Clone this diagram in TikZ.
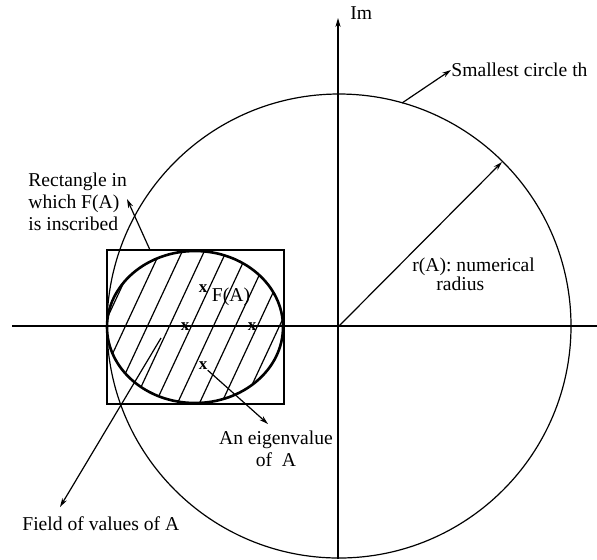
\documentclass[tikz,border=0pt]{standalone}
\usepackage{fontspec}
\setmainfont{Liberation Serif}
\usetikzlibrary{arrows.meta}
\begin{document}
\begin{tikzpicture}[x=0.5pt,y=-0.5pt,
  thinln/.style={line width=0.6pt,black},
  thickln/.style={line width=1.3pt,black},
  arr/.style={thinln,-{Stealth[length=4.5pt,width=2.6pt]}},
  lbl/.style={font=\fontsize{9.8}{11}\selectfont,inner sep=0pt},
  xm/.style={font=\fontsize{8.5}{9}\selectfont\bfseries,inner sep=0pt}]
\useasboundingbox (0,0) rectangle (597,559);
% axes
\coordinate (xl) at (12,326);
\coordinate (xr) at (597,326);
\coordinate (yb) at (338,559);
\coordinate (yt) at (338,18);
\draw[thinln] (xl) -- (xr);
\draw[arr] (yb) -- (yt);
\node[lbl,anchor=west] (im) at (350,13) {Im};
% big circle
\coordinate (o) at (339,326);
\draw[thinln] (o) circle [radius=232];
% rectangle
\draw[thinln] (107,250) rectangle (284,404);
% field of values: hatched ellipse
\begin{scope}
  \clip (195,327) ellipse [x radius=88, y radius=76];
  \foreach \k in {-7,...,7}
    \draw[thinln] ({191+22*\k-90},520) -- ({191+22*\k+90},134);
\end{scope}
\draw[thickln] (195,327) ellipse [x radius=88, y radius=76];
% eigenvalues
\node[xm] (e1) at (203,289) {x};
\node[xm] (e2) at (185,327) {x};
\node[xm] (e3) at (252,327) {x};
\node[xm] (e4) at (203,366) {x};
\node[lbl] (fa) at (231,297) {F(A)};
% smallest circle label
\coordinate (scp) at (402,103);
\node[lbl,anchor=west] (sc) at (451,70) {Smallest circle th};
\draw[arr] (scp) -- (sc.west);
% numerical radius
\coordinate (rp) at (502,162);
\draw[arr] (o) -- (rp);
\node[lbl,anchor=west] (ra) at (412,267) {r(A): numerical};
\node[lbl,anchor=west] (rb) at (436,284) {radius};
% rectangle label
\node[lbl,anchor=north west,align=left] (rl) at (28,172) {Rectangle in\\which F(A)\\is inscribed};
\coordinate (rtp) at (150,250);
\coordinate (rtt) at (127,199);
\draw[arr] (rtp) -- (rtt);
% eigenvalue label
\node[lbl,align=center,anchor=north] (ev) at (276,430) {An eigenvalue\\of\ \ A};
\coordinate (evt) at (268,424);
\draw[arr] (e4) -- (evt);
% field of values label
\node[lbl,anchor=west] (fv) at (22,524) {Field of values of A};
\coordinate (fvs) at (161,338);
\coordinate (fvt) at (60,507);
\draw[arr] (fvs) -- (fvt);
\end{tikzpicture}
\end{document}
